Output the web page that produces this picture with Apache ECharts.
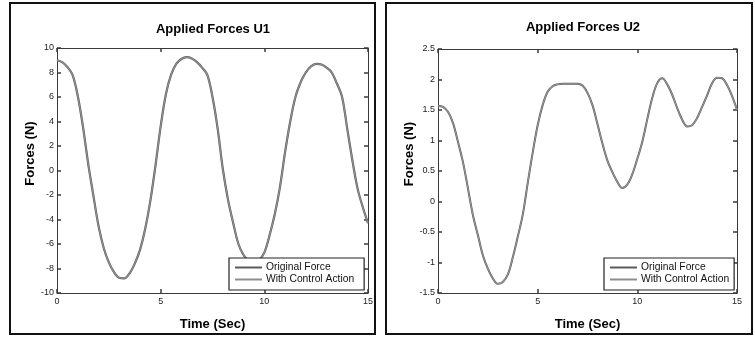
<!DOCTYPE html>
<html>
<head>
<meta charset="utf-8">
<script src="https://cdn.jsdelivr.net/npm/echarts@6/dist/echarts.min.js"></script>
<style>
  html, body { margin: 0; padding: 0; background: #fff; }
  #chart { width: 755px; height: 337px; }
</style>
</head>
<body>
<div id="chart"></div>
<script>
// ---- Data ----
const time = [0, 0.25, 0.5, 0.75, 1, 1.25, 1.5, 1.75, 2, 2.25, 2.5, 2.75, 3, 3.25, 3.5, 3.75,
  4, 4.25, 4.5, 4.75, 5, 5.25, 5.5, 5.75, 6, 6.25, 6.5, 6.75, 7, 7.25, 7.5, 7.75,
  8, 8.25, 8.5, 8.75, 9, 9.25, 9.5, 9.75, 10, 10.25, 10.5, 10.75, 11, 11.25, 11.5, 11.75,
  12, 12.25, 12.5, 12.75, 13, 13.25, 13.5, 13.75, 14, 14.25, 14.5, 14.75, 15];

const u1Original = [9.0, 8.85, 8.45, 7.8, 6.1, 3.6, 0.6, -2.0, -4.5, -6.3, -7.5, -8.3, -8.75, -8.8, -8.4, -7.6,
  -6.5, -4.8, -2.5, 0.4, 3.6, 6.2, 7.8, 8.7, 9.1, 9.25, 9.15, 8.85, 8.4, 7.8, 6.0, 3.4,
  0.1, -2.4, -4.3, -6.0, -6.9, -7.4, -7.6, -7.3, -6.7, -5.3, -3.6, -1.4, 1.5, 4.0, 6.0, 7.2,
  8.0, 8.5, 8.7, 8.65, 8.4, 8.0, 7.1, 6.0, 3.4, 0.8, -1.5, -3.0, -4.3];
const u1Control = [9.0, 8.85, 8.45, 7.8, 6.1, 3.6, 0.6, -2.0, -4.5, -6.3, -7.5, -8.3, -8.75, -8.8, -8.4, -7.6,
  -6.5, -4.8, -2.5, 0.4, 3.6, 6.2, 7.8, 8.7, 9.1, 9.25, 9.15, 8.85, 8.4, 7.8, 6.0, 3.4,
  0.1, -2.4, -4.3, -6.0, -6.9, -7.4, -7.6, -7.3, -6.7, -5.3, -3.6, -1.4, 1.5, 4.0, 6.0, 7.2,
  8.0, 8.5, 8.7, 8.65, 8.4, 8.0, 7.1, 6.0, 3.4, 0.8, -1.5, -3.0, -4.3];

const u2Original = [1.57, 1.55, 1.47, 1.29, 0.98, 0.65, 0.22, -0.22, -0.55, -0.88, -1.1, -1.26, -1.35, -1.32, -1.2, -0.92,
  -0.58, -0.22, 0.3, 0.8, 1.25, 1.58, 1.8, 1.89, 1.92, 1.93, 1.93, 1.93, 1.93, 1.9, 1.78, 1.58,
  1.27, 0.95, 0.67, 0.48, 0.32, 0.22, 0.28, 0.45, 0.7, 0.98, 1.35, 1.7, 1.94, 2.02, 1.92, 1.75,
  1.53, 1.34, 1.23, 1.25, 1.37, 1.55, 1.74, 1.94, 2.03, 2.02, 1.91, 1.73, 1.5];
const u2Control = [1.57, 1.55, 1.47, 1.29, 0.98, 0.65, 0.22, -0.22, -0.55, -0.88, -1.1, -1.26, -1.35, -1.32, -1.2, -0.92,
  -0.58, -0.22, 0.3, 0.8, 1.25, 1.58, 1.8, 1.89, 1.92, 1.93, 1.93, 1.93, 1.93, 1.9, 1.78, 1.58,
  1.27, 0.95, 0.67, 0.48, 0.32, 0.22, 0.28, 0.45, 0.7, 0.98, 1.35, 1.7, 1.94, 2.02, 1.92, 1.75,
  1.53, 1.34, 1.23, 1.25, 1.37, 1.55, 1.74, 1.94, 2.03, 2.02, 1.91, 1.73, 1.5];

const titles = ['Applied Forces U1', 'Applied Forces U2'];
const seriesNames = ['Original Force', 'With Control Action'];
const xTicks = [0, 5, 10, 15];
const u1Range = { min: -10, max: 10, interval: 2 };
const u2Range = { min: -1.5, max: 2.5, interval: 0.5 };
const xName = 'Time (Sec)';
const yName = 'Forces (N)';

// ---- Chart ----
const FONT = '"Liberation Sans", Arial, Helvetica, sans-serif';
const pairs = (vals) => time.map((t, i) => [t, vals[i]]);

const chart = echarts.init(document.getElementById('chart'), null, { renderer: 'canvas' });

const axisLine = { show: true, onZero: false, lineStyle: { color: '#3a3a3a', width: 1 } };
const tick = { show: true, inside: true, length: 4, lineStyle: { color: '#3a3a3a', width: 1.5 } };
const tickLabel = { color: '#222', fontSize: 9, fontFamily: FONT };

function xAxes(gridIndex) {
  return [
    {
      type: 'value', gridIndex, min: xTicks[0], max: xTicks[xTicks.length - 1], interval: 5,
      position: 'bottom', axisLine, axisTick: tick, splitLine: { show: false },
      axisLabel: Object.assign({ margin: 4 }, tickLabel),
      name: xName, nameLocation: 'middle', nameGap: 25,
      nameTextStyle: { fontFamily: FONT, fontWeight: 'bold', fontSize: 13, color: '#000' }
    },
    {
      type: 'value', gridIndex, min: xTicks[0], max: xTicks[xTicks.length - 1], interval: 5,
      position: 'top', axisLine, axisTick: tick, splitLine: { show: false },
      axisLabel: { show: false }
    }
  ];
}
function yAxes(gridIndex, range, gap) {
  return [
    {
      type: 'value', gridIndex, min: range.min, max: range.max, interval: range.interval,
      position: 'left', axisLine, axisTick: tick, splitLine: { show: false },
      axisLabel: Object.assign({ margin: 3 }, tickLabel),
      name: yName, nameLocation: 'middle', nameGap: gap, nameRotate: 90,
      nameTextStyle: { fontFamily: FONT, fontWeight: 'bold', fontSize: 13, color: '#000', padding: [0, 0, 0, 34] }
    },
    {
      type: 'value', gridIndex, min: range.min, max: range.max, interval: range.interval,
      position: 'right', axisLine, axisTick: tick, splitLine: { show: false },
      axisLabel: { show: false }
    }
  ];
}

function legendAt(left, rightPad) {
  return {
    orient: 'vertical', left, top: 258,
    data: seriesNames,
    icon: 'rect', itemWidth: 27, itemHeight: 2, itemGap: 1,
    padding: [4, rightPad, 5, 6],
    borderColor: '#222', borderWidth: 1.2, backgroundColor: '#fff',
    selectedMode: false,
    textStyle: { fontFamily: FONT, fontSize: 10.3, color: '#111', lineHeight: 11, padding: [0, 0, 0, -1] }
  };
}

function lineSeries(name, data, xi, yi, color, width, z) {
  return {
    name, type: 'line', data, xAxisIndex: xi, yAxisIndex: yi,
    smooth: 0.35, showSymbol: false, symbol: 'none', clip: true, z,
    itemStyle: { color },
    lineStyle: { color, width }
  };
}

const option = {
  animation: false,
  backgroundColor: '#fff',
  title: [
    { text: titles[0], left: 213, top: 23, textAlign: 'center', padding: 0,
      textStyle: { fontFamily: FONT, fontWeight: 'bold', fontSize: 13, color: '#000' } },
    { text: titles[1], left: 583, top: 21, textAlign: 'center', padding: 0,
      textStyle: { fontFamily: FONT, fontWeight: 'bold', fontSize: 13, color: '#000' } }
  ],
  grid: [
    { left: 57, top: 48, width: 311, height: 245, containLabel: false },
    { left: 438, top: 49, width: 299, height: 244, containLabel: false }
  ],
  xAxis: [].concat(xAxes(0), xAxes(1)),
  yAxis: [].concat(yAxes(0, u1Range, 15), yAxes(1, u2Range, 22)),
  legend: [legendAt(229, 10), legendAt(604, 5)],
  series: [
    lineSeries(seriesNames[0], pairs(u1Original), 0, 0, '#5a5a5a', 2.2, 2),
    lineSeries(seriesNames[1], pairs(u1Control), 0, 0, '#8e8e8e', 1.3, 3),
    lineSeries(seriesNames[0], pairs(u2Original), 2, 2, '#5a5a5a', 2.0, 2),
    lineSeries(seriesNames[1], pairs(u2Control), 2, 2, '#959595', 1.1, 3)
  ],
  graphic: [
    { type: 'rect', shape: { x: 10, y: 3, width: 365, height: 331 },
      style: { fill: 'none', stroke: '#111', lineWidth: 2 }, z: 100 },
    { type: 'rect', shape: { x: 386, y: 3, width: 366, height: 331 },
      style: { fill: 'none', stroke: '#111', lineWidth: 2 }, z: 100 }
  ]
};
chart.setOption(option);
</script>
</body>
</html>
